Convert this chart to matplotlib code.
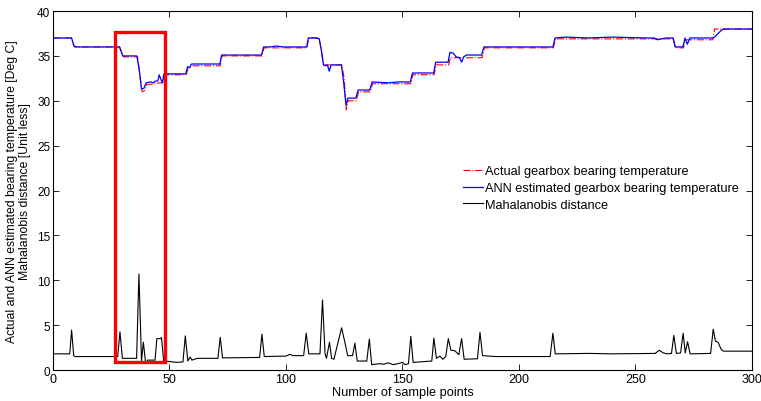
import matplotlib
matplotlib.use("Agg")
import matplotlib.pyplot as plt
from matplotlib.patches import Rectangle

plt.rcParams['font.family'] = ['Liberation Sans', 'DejaVu Sans']

# ANN estimated gearbox bearing temperature (breakpoints)
ann_x = [0, 8, 9, 10, 28.5, 30, 36, 37, 38, 39, 40, 42, 43, 44, 45, 45.6, 46.3, 47, 47.6, 50, 57, 57.8, 58.6, 59.5,
         71.6, 72.4, 89.5, 90.4, 93, 96, 99, 108.9, 109.6, 113, 114.3, 115.3, 116.1, 117, 117.8, 118.6, 119.4,
         123.8, 124.8, 125.8, 126.6, 130, 131, 136, 137, 144, 148, 153.4, 154.3, 163.4, 164.3, 169.6, 170.4,
         171.8, 173, 174.5, 175.4, 176.3, 177.5, 184, 185, 214.6, 215.5, 220, 230, 240, 255, 258, 259.5, 263,
         266.2, 267.1, 270.4, 271.3, 272.3, 273.4, 283.4, 284.4, 285.5, 286.7, 287.7, 300]
ann_y = [37.0, 37.0, 36.1, 36.0, 36.0, 35.0, 35.0, 33.5, 31.3, 31.4, 32.0, 32.1, 32.0, 32.2, 32.2, 32.9, 32.4, 32.0,
         33.0, 33.0, 33.0, 33.8, 33.7, 34.1, 34.1, 35.1, 35.1, 36.0, 36.0, 36.1, 36.0, 36.0, 37.0, 37.0, 36.9,
         35.5, 34.0, 33.9, 34.0, 33.3, 34.0, 34.0, 32.0, 29.5, 30.3, 30.3, 31.2, 31.2, 32.1, 32.0, 32.1, 32.1,
         33.1, 33.1, 34.3, 34.3, 35.4, 35.3, 34.9, 34.8, 34.3, 34.9, 35.1, 35.1, 36.0, 36.0, 37.0, 37.1, 37.0,
         37.1, 37.0, 37.0, 36.8, 37.0, 37.0, 36.0, 36.0, 37.0, 36.3, 37.0, 37.0, 37.2, 37.5, 37.8, 38.0, 38.0]

# Actual gearbox bearing temperature
act_x = [0, 8, 9.2, 28.7, 30.2, 36.3, 37.5, 38.3, 39.2, 40.2, 44, 45.8, 47, 47.8, 57.2, 58, 59.8, 71.8, 72.6,
         89.7, 90.6, 109, 109.8, 114.3, 115.5, 116.3, 124, 125, 125.9, 126.8, 130.2, 131.2, 136.2, 137.2,
         153.6, 154.5, 163.6, 164.5, 169.8, 170.6, 184.2, 185.2, 214.8, 215.7, 266.3, 267.2, 270.6, 271.5,
         283.2, 284, 300]
act_y = [37.0, 37.0, 36.0, 36.0, 34.9, 34.9, 32.5, 31.0, 31.1, 31.8, 31.9, 32.0, 32.0, 32.9, 32.9, 33.6, 33.9,
         33.9, 35.0, 35.0, 35.9, 35.9, 37.0, 37.0, 35.0, 34.0, 34.0, 32.5, 29.0, 30.0, 30.0, 31.0, 31.0, 31.9,
         31.9, 32.9, 32.9, 34.0, 34.0, 34.8, 34.8, 35.9, 35.9, 36.9, 36.9, 35.9, 35.9, 36.8, 36.8, 38.0, 38.0]

# Mahalanobis distance
md_x = [0, 7.2, 8, 8.9, 9.5, 27.8, 28.75, 29.8, 35.9, 36.9, 38, 38.8, 39.8, 40.6, 43.8, 44.6, 46, 46.6, 47.5,
        50, 53, 55.8, 56.8, 57.9, 58.9, 59.6, 62, 70.8, 71.8, 72.8, 88.7, 89.7, 90.7, 100, 101.7, 103, 107.6,
        108.7, 109.8, 114.6, 115.7, 116.8, 117.4, 118.7, 119.6, 120.6, 123.9, 125.2, 126.5, 128.6, 129.6,
        130.6, 134.7, 135.8, 136.8, 140, 142, 144, 146, 148, 150, 151, 152.6, 153.6, 154.6, 160, 162.6,
        163.5, 164.6, 166.1, 167.4, 168.6, 169.7, 170.8, 172.5, 174.2, 175.4, 176.5, 182.2, 183.3, 184.4,
        190, 213.4, 214.6, 215.6, 230, 240, 258.5, 260.3, 262, 264, 265.5, 266.5, 267.6, 269.4, 270.5,
        271.4, 272.4, 273.5, 282.3, 283.4, 284.4, 285.5, 286.8, 287.8, 300]
md_y = [1.8, 1.8, 4.45, 1.6, 1.5, 1.5, 4.25, 1.3, 1.3, 10.7, 1.0, 3.1, 0.7, 1.1, 1.1, 3.5, 3.5, 3.6, 1.0,
        0.95, 0.85, 0.9, 3.8, 1.0, 1.45, 1.1, 1.3, 1.3, 3.65, 1.35, 1.4, 4.0, 1.5, 1.55, 1.75, 1.6, 1.6,
        4.1, 1.8, 1.8, 7.8, 1.8, 1.3, 3.1, 1.3, 1.2, 4.7, 3.2, 1.6, 1.6, 3.0, 1.0, 1.0, 3.45, 0.6, 0.7,
        0.65, 0.8, 0.6, 0.7, 0.85, 0.6, 0.7, 3.75, 0.85, 0.95, 1.0, 3.55, 1.3, 1.55, 1.2, 1.5, 3.5, 2.2,
        2.15, 1.7, 3.5, 1.2, 1.25, 4.2, 1.6, 1.5, 1.5, 4.1, 1.8, 1.85, 1.8, 1.85, 2.2, 1.9, 1.8, 1.85,
        3.85, 1.85, 1.9, 4.1, 1.9, 3.15, 1.8, 1.85, 4.55, 3.2, 3.1, 2.3, 2.1, 2.1]

# Highlighted region (x0, x1, y0, y1)
highlight = [26.6, 48.3, 0.9, 37.7]

xticks = [0, 50, 100, 150, 200, 250, 300]
yticks = [0, 5, 10, 15, 20, 25, 30, 35, 40]

fig = plt.figure(figsize=(7.61, 4.02), dpi=100)
ax = fig.add_axes([0.0696, 0.0771, 0.9184, 0.8929])

ax.plot(act_x, act_y, color='red', linestyle='-.', linewidth=0.8,
        label='Actual gearbox bearing temperature')
ax.plot(ann_x, ann_y, color='blue', linestyle='-', linewidth=0.9,
        label='ANN estimated gearbox bearing temperature')
ax.plot(md_x, md_y, color='black', linestyle='-', linewidth=0.8,
        label='Mahalanobis distance')

ax.add_patch(Rectangle((highlight[0], highlight[2]), highlight[1] - highlight[0],
                       highlight[3] - highlight[2], fill=False, edgecolor='red',
                       linewidth=2.4, zorder=5))

ax.set_xlim(0, 300)
ax.set_ylim(0, 40)
ax.set_xticks(xticks)
ax.set_yticks(yticks)
ax.tick_params(direction='in', top=True, right=True, length=4, width=0.6)
ax.tick_params(axis='x', labelsize=9, pad=2)
ax.tick_params(axis='y', labelsize=8.5, pad=2)
for s in ax.spines.values():
    s.set_linewidth(0.8)

ax.set_xlabel('Number of sample points', fontsize=9.2, labelpad=1)
ax.set_ylabel('Actual and ANN estimated bearing temperature [Deg C]\nMahalanobis distance [Unit less]',
              fontsize=8.8, labelpad=4, linespacing=1.1)

ax.legend(loc='upper left', bbox_to_anchor=(0.58, 0.585), frameon=False, fontsize=9.2,
          handlelength=1.5, handletextpad=0.2, labelspacing=0.38, borderaxespad=0)

fig.savefig('out.png', dpi=100)
